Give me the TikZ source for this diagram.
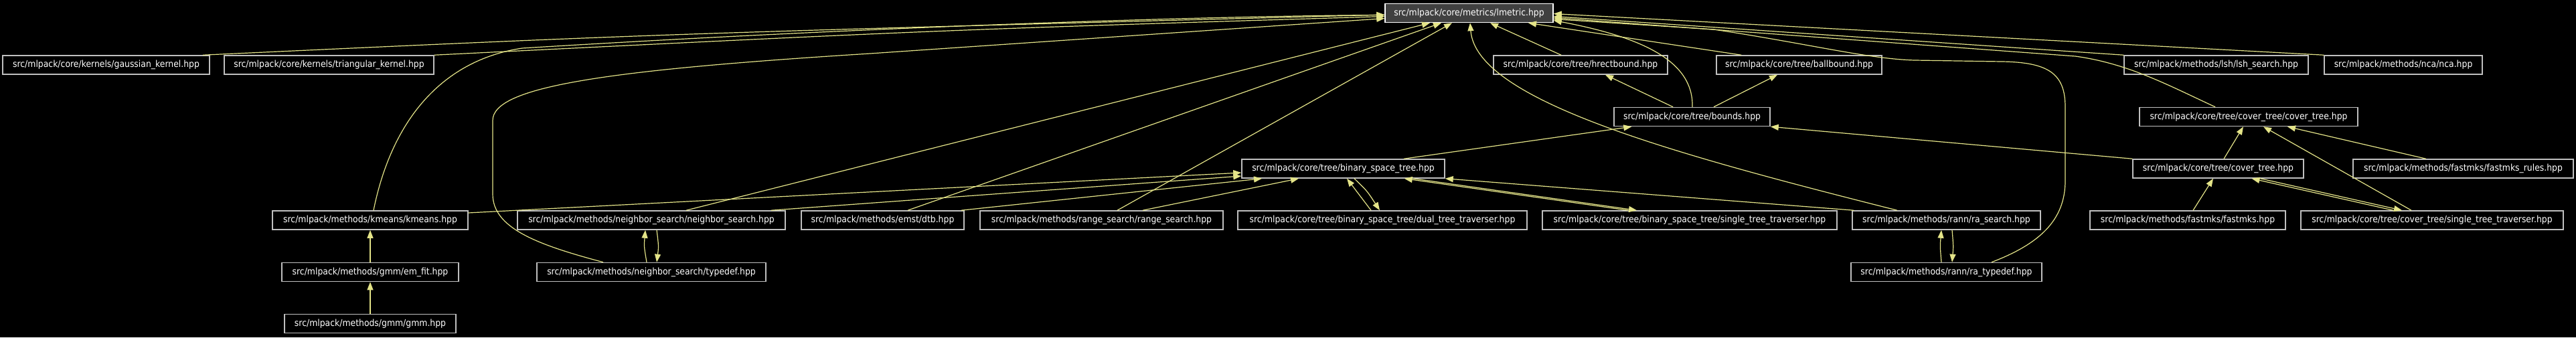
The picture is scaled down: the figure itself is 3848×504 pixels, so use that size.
\documentclass[tikz,border=0pt]{standalone}
\usepackage{fontspec}
\setmainfont{DejaVu Sans}[FakeStretch=0.9]
\usetikzlibrary{arrows.meta,calc}
\definecolor{edgec}{RGB}{228,228,136}
\definecolor{boxc}{RGB}{191,191,191}
\definecolor{focusfill}{RGB}{64,64,64}
\begin{document}
\begin{tikzpicture}[x=1pt,y=-1pt,
  nd/.style={draw=boxc, fill=black, text=white, line width=1.5pt, minimum height=28pt, inner sep=0pt, font=\fontsize{13.8}{16}\selectfont},
  ed/.style={draw=edgec, line width=1.2pt, -{Triangle[length=12pt,width=9pt]}}]
\fill[black] (0,0) rectangle (3848,504);
\useasboundingbox (0,0) rectangle (3848,504);
% nodes
\node[nd,minimum width=251pt,fill=focusfill,draw=white] (lmetric) at (2194.5,19.5) {src/mlpack/core/metrics/lmetric.hpp};
\node[nd,minimum width=309pt] (gauss) at (158.5,97) {src/mlpack/core/kernels/gaussian\_kernel.hpp};
\node[nd,minimum width=313pt] (tri) at (491.5,97) {src/mlpack/core/kernels/triangular\_kernel.hpp};
\node[nd,minimum width=260pt] (hrect) at (2361,97) {src/mlpack/core/tree/hrectbound.hpp};
\node[nd,minimum width=247pt] (ball) at (2687.5,97) {src/mlpack/core/tree/ballbound.hpp};
\node[nd,minimum width=275pt] (lsh) at (3310.5,97) {src/mlpack/methods/lsh/lsh\_search.hpp};
\node[nd,minimum width=236pt] (nca) at (3590,97) {src/mlpack/methods/nca/nca.hpp};
\node[nd,minimum width=233pt] (bounds) at (2527.5,174.5) {src/mlpack/core/tree/bounds.hpp};
\node[nd,minimum width=326pt] (ctct) at (3359,174.5) {src/mlpack/core/tree/cover\_tree/cover\_tree.hpp};
\node[nd,minimum width=303pt] (bst) at (2006.5,252) {src/mlpack/core/tree/binary\_space\_tree.hpp};
\node[nd,minimum width=255pt] (ct) at (3313.5,252) {src/mlpack/core/tree/cover\_tree.hpp};
\node[nd,minimum width=329pt] (fmr) at (3679.5,252) {src/mlpack/methods/fastmks/fastmks\_rules.hpp};
\node[nd,minimum width=292pt] (kmeans) at (553,329) {src/mlpack/methods/kmeans/kmeans.hpp};
\node[nd,minimum width=400pt] (ns) at (973,329) {src/mlpack/methods/neighbor\_search/neighbor\_search.hpp};
\node[nd,minimum width=243pt] (dtb) at (1318.5,329) {src/mlpack/methods/emst/dtb.hpp};
\node[nd,minimum width=363pt] (rs) at (1645.5,329) {src/mlpack/methods/range\_search/range\_search.hpp};
\node[nd,minimum width=432pt] (dtt) at (2065,329) {src/mlpack/core/tree/binary\_space\_tree/dual\_tree\_traverser.hpp};
\node[nd,minimum width=440pt] (bstt) at (2524,329) {src/mlpack/core/tree/binary\_space\_tree/single\_tree\_traverser.hpp};
\node[nd,minimum width=281pt] (ras) at (2907.5,329) {src/mlpack/methods/rann/ra\_search.hpp};
\node[nd,minimum width=292pt] (fm) at (3268,329) {src/mlpack/methods/fastmks/fastmks.hpp};
\node[nd,minimum width=392pt] (ctstt) at (3633,329) {src/mlpack/core/tree/cover\_tree/single\_tree\_traverser.hpp};
\node[nd,minimum width=264pt] (emfit) at (553,406.5) {src/mlpack/methods/gmm/em\_fit.hpp};
\node[nd,minimum width=342pt] (nstd) at (973,406.5) {src/mlpack/methods/neighbor\_search/typedef.hpp};
\node[nd,minimum width=285pt] (ratd) at (2907.5,406.5) {src/mlpack/methods/rann/ra\_typedef.hpp};
\node[nd,minimum width=256pt] (gmm) at (553,483.5) {src/mlpack/methods/gmm/gmm.hpp};
% edges into lmetric
\draw[ed] ($(gauss.north)+(144.5,0)$) .. controls (1000,50) .. ($(lmetric.west)+(0,2.5)$);
\draw[ed] (tri.north east) .. controls (1400,45) .. ($(lmetric.west)+(0,5)$);
\draw[ed] ($(kmeans.north)+(5,0)$) .. controls (585,180) and (660,90) .. (780,72) .. controls (1300,40) and (1800,24) .. ($(lmetric.west)+(0,3)$);
\draw[ed] ($(nstd.north)+(-72,0)$) .. controls (800,365) and (736,340) .. (736,290) -- (736,180) .. controls (736,130) and (900,105) .. (1300,80) -- ($(lmetric.west)+(0,8)$);
\draw[ed] ($(ns.north)+(52,0)$) -- ($(lmetric.south)+(-58.5,0)$);
\draw[ed] ($(dtb.north)+(37.5,0)$) -- ($(lmetric.south)+(-41.5,0)$);
\draw[ed] ($(rs.north)+(23.5,0)$) -- ($(lmetric.south)+(-25.5,0)$);
\draw[ed] ($(ras.north)+(-73.5,0)$) .. controls (2500,230) and (2205,150) .. ($(lmetric.south)+(1.5,0)$);
\draw[ed] ($(hrect.north)+(-29,0)$) -- ($(lmetric.south)+(31.5,0)$);
\draw[ed] ($(ball.north west)+(38,0)$) -- ($(lmetric.south)+(88.5,0)$);
\draw[ed] ($(bounds.north)+(0.5,0)$) .. controls (2530,90) and (2450,55) .. ($(lmetric.east)+(0,11)$);
\draw[ed] (lsh.north west) -- ($(lmetric.east)+(0,5)$);
\draw[ed] (nca.north west) -- ($(lmetric.east)+(0,1)$);
\draw[ed] ($(ctct.north)+(-50,0)$) .. controls (3240,128) and (3180,95) .. (3100,84) -- ($(lmetric.east)+(0,7)$);
\draw[ed] ($(ratd.north)+(67.5,0)$) .. controls (3045,365) and (3085,330) .. (3085,270) -- (3085,160) .. controls (3085,110) and (3060,93) .. (2990,92) -- (2860,90) .. controls (2790,88) and (2700,65) .. (2560,44) -- ($(lmetric.east)+(0,9)$);
% edges into binary_space_tree
\draw[ed] ($(kmeans.east)+(0,-11)$) -- ($(bst.west)+(0,6)$);
\draw[ed] ($(ns.north east)+(-22,0)$) -- ($(bst.west)+(0,11)$);
\draw[ed] ($(dtb.north east)+(-5,0)$) -- ($(bst.south)+(-121.5,0)$);
\draw[ed] ($(rs.north)+(61.5,0)$) -- ($(bst.south)+(-66.5,0)$);
\draw[ed] ($(dtt.north)+(-17,0)$) -- ($(bst.south)+(5.5,0)$);
\draw[ed] ($(bst.south)+(16.5,0)$) .. controls (2042,285) .. ($(dtt.north)+(-4,0)$);
\draw[ed] ($(bstt.north)+(-92,0)$) -- ($(bst.south east)+(-61,0)$);
\draw[ed] ($(bst.south east)+(-48,0)$) -- ($(bstt.north)+(-79,0)$);
\draw[ed] ($(ras.north west)+(3,0)$) -- (bst.south east);
% bounds
\draw[ed] ($(bst.north)+(90.5,0)$) -- ($(bounds.south west)+(27,0)$);
\draw[ed] (ct.north west) -- (bounds.south east);
\draw[ed] ($(bounds.north)+(-28.5,0)$) -- ($(hrect.south)+(37,0)$);
\draw[ed] ($(bounds.north)+(32.5,0)$) -- ($(ball.south)+(-32.5,0)$);
% cover tree
\draw[ed] ($(ct.north)+(8.5,0)$) -- ($(ctct.south)+(-8,0)$);
\draw[ed] ($(ctstt.north)+(-31,0)$) -- ($(ctct.south)+(22,0)$);
\draw[ed] ($(fmr.north)+(-55.5,0)$) -- ($(ctct.south)+(58,0)$);
\draw[ed] ($(fm.north)+(8,0)$) -- ($(ct.south)+(-7.5,0)$);
\draw[ed] ($(ctstt.north)+(-58,0)$) -- ($(ct.south)+(50,0)$);
\draw[ed] ($(ct.south)+(63,0)$) -- ($(ctstt.north)+(-45,0)$);
% lower chains
\draw[ed] (emfit.north) -- (kmeans.south);
\draw[ed] (gmm.north) -- (emfit.south);
\draw[ed] ($(nstd.north)+(-7,0)$) .. controls (962,368) .. ($(ns.south)+(-9,0)$);
\draw[ed] ($(ns.south)+(8,0)$) .. controls (984,368) .. ($(nstd.north)+(8,0)$);
\draw[ed] ($(ratd.north)+(-7.5,0)$) .. controls (2898,368) .. ($(ras.south)+(-7.5,0)$);
\draw[ed] ($(ras.south)+(8.5,0)$) .. controls (2918,368) .. ($(ratd.north)+(8.5,0)$);
\end{tikzpicture}
\end{document}
